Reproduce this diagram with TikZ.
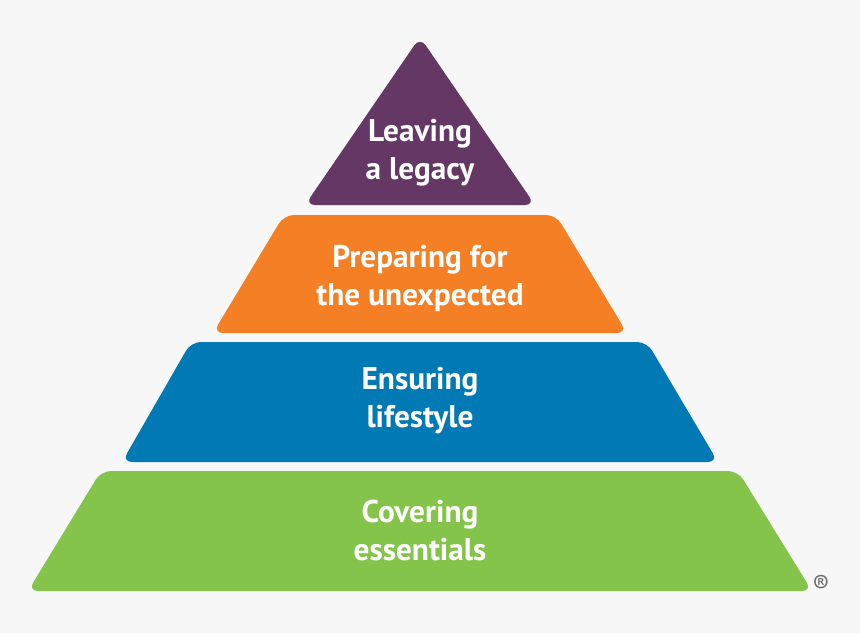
\documentclass[tikz,border=0pt]{standalone}
\usepackage{fontspec}
\setmainfont{PT Sans}
\definecolor{bgc}{HTML}{F7F7F7}
\definecolor{purp}{HTML}{643764}
\definecolor{oran}{HTML}{F47F24}
\definecolor{blu}{HTML}{0079B4}
\definecolor{gre}{HTML}{85C44A}
\definecolor{regc}{HTML}{6A6A6A}
\tikzset{
  layer/.style={rounded corners=7.5},
  lbl/.style={text=white, align=center, font=\fontsize{23.5}{28.5}\selectfont\bfseries, inner sep=0pt}
}
\begin{document}
\begin{tikzpicture}[x=0.75pt,y=-0.75pt]
\fill[bgc] (0,0) rectangle (860,633);
\useasboundingbox (0,0) rectangle (860,633);
% layers
\fill[purp,layer] (420,37) -- (535,205) -- (305,205) -- cycle;
\fill[oran,layer] (284,215) -- (556,215) -- (627,333) -- (213,333) -- cycle;
\fill[blu,layer] (191,342) -- (647,342) -- (718,462) -- (122,462) -- cycle;
\fill[gre,layer] (101,471) -- (738,471) -- (812,591) -- (28,591) -- cycle;
% labels
\node[lbl] (t1) at (420,153) {Leaving\\a legacy};
\node[lbl] (t2) at (420,278) {Preparing for\\the unexpected};
\node[lbl] (t3) at (420,401) {Ensuring\\lifestyle};
\node[lbl] (t4) at (420,531) {Covering\\essentials};
\node[text=regc, font=\fontsize{19}{19}\selectfont, inner sep=0pt] (reg) at (821,584) {®};
\end{tikzpicture}
\end{document}
